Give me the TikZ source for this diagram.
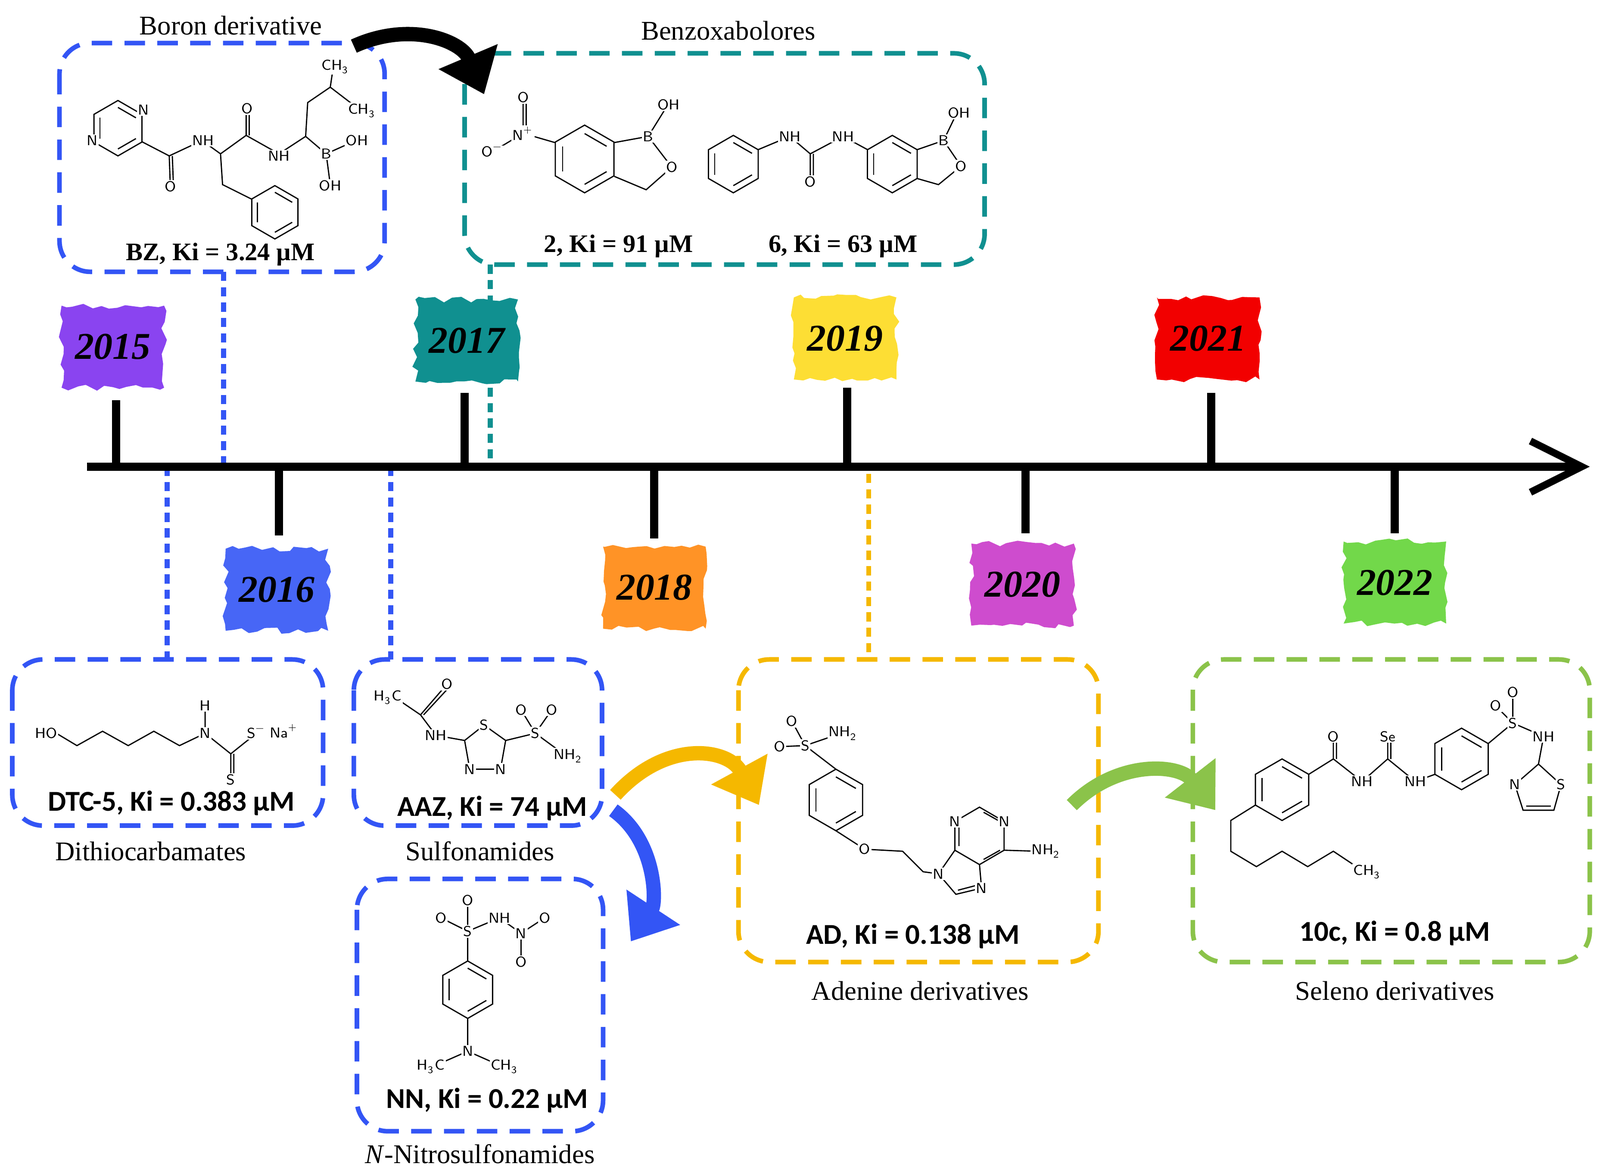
\documentclass[tikz,border=0pt]{standalone}
\usepackage{fontspec}
\setmainfont{Liberation Serif}
\newfontfamily\mysansfam{Carlito}
\usetikzlibrary{arrows.meta,decorations.pathmorphing,shapes.geometric,calc}
\definecolor{cblue}{HTML}{3355F5}
\definecolor{cteal}{HTML}{109090}
\definecolor{cyel}{HTML}{F5B800}
\definecolor{cgreen}{HTML}{8BC34A}
\definecolor{cpurp}{HTML}{8A44F0}
\definecolor{cgr22}{HTML}{72D84A}
\newcommand\hexa[3]{% cx cy r
  \draw[chem] (#1,#2) ++(90:#3) -- ++(-30:#3) -- ++(-90:#3) -- ++(-150:#3) -- ++(150:#3) -- ++(90:#3) -- cycle;
  \draw[chem] ($(#1,#2)+(90:0.75*#3)$) -- ($(#1,#2)+(30:0.75*#3)$);
  \draw[chem] ($(#1,#2)+(-30:0.75*#3)$) -- ($(#1,#2)+(-90:0.75*#3)$);
  \draw[chem] ($(#1,#2)+(-150:0.75*#3)$) -- ($(#1,#2)+(150:0.75*#3)$);}
\newcommand\sub[1]{\textsubscript{#1}}
\newcommand\sups[1]{\textsuperscript{#1}}
\begin{document}
\begin{tikzpicture}[x=0.1mm,y=-0.1mm,
  chem/.style={line width=0.12mm},
  atm/.style={font=\sffamily\fontsize{4}{4}\selectfont,inner sep=0.3pt,fill=white},
  box/.style={draw,line width=0.45mm,rounded corners=3mm,dash pattern=on 2mm off 1.2mm},
  dots/.style={line width=0.5mm,dash pattern=on 0.9mm off 0.6mm},
  year/.style={minimum width=10mm,minimum height=8mm,inner sep=0pt,font=\bfseries\itshape\fontsize{10.5}{11}\selectfont},
  tick/.style={line width=0.8mm},
  capt/.style={font=\fontsize{7.5}{8}\selectfont},
  bl/.style={font=\bfseries\fontsize{7}{8}\selectfont},
  sl/.style={font=\mysansfam\bfseries\fontsize{8}{8}\selectfont},
  big/.style={line width=1.4mm,-{Triangle[length=4mm,width=6mm]}}]
\useasboundingbox (0,0) rectangle (1560,1140.8);

% dotted links (behind)
\draw[dots,cblue] (218,265) -- (218,455);
\draw[dots,cteal] (478,258) -- (478,455);
\draw[dots,cblue] (163,455) -- (163,643);
\draw[dots,cblue] (381,455) -- (381,643);
\draw[dots,cyel] (847,462) -- (847,643);

% timeline
\coordinate (t0) at (85,455); \coordinate (t1) at (1550,455);
\draw[line width=0.8mm,-{Straight Barb[length=5mm,width=5mm,line width=0.7mm]}] (t0) -- (t1);

% year badges
\newcommand\badge[4]{%
 \fill[#3,decorate,decoration={random steps,segment length=0.8mm,amplitude=0.3mm}] (#1-50,#2-40) rectangle (#1+50,#2+40);
 \node[year] (y#4) at (#1,#2) {#4};}
\badge{110}{338}{cpurp}{2015}
\badge{270}{575}{cblue!90!white}{2016}
\badge{455}{332}{cteal}{2017}
\badge{638}{573}{orange!85!white}{2018}
\badge{824}{330}{yellow!75!orange!80!white}{2019}
\badge{997}{570}{violet!55!magenta!70!white}{2020}
\badge{1178}{330}{red!95!black}{2021}
\badge{1360}{568}{cgr22}{2022}

% ticks
\foreach \x/\a in {113/390,453/383,826/378,1181/383}{\draw[tick] (\x,455) -- (\x,\a);}
\foreach \x/\a in {272/522,638/525,1000/520,1360/520}{\draw[tick] (\x,455) -- (\x,\a);}

% boxes
\draw[box,cblue] (58,42) rectangle (375,265); \node[capt] (tb) at (225,25) {Boron derivative};
\draw[box,cteal] (453,52) rectangle (960,258); \node[capt] (tx) at (710,30) {Benzoxabolores};
\draw[box,cblue] (12,643) rectangle (315,805); \node[capt] at (147,830) {Dithiocarbamates};
\draw[box,cblue] (345,643) rectangle (587,805); \node[capt] at (468,830) {Sulfonamides};
\draw[box,cblue] (348,857) rectangle (588,1103); \node[capt] at (468,1125) {\textit{N}-Nitrosulfonamides};
\draw[box,cyel] (720,643) rectangle (1071,938); \node[capt] at (897,966) {Adenine derivatives};
\draw[box,cgreen] (1163,643) rectangle (1550,938); \node[capt] at (1360,966) {Seleno derivatives};

% big arrows
\draw[big,black] (345,45) .. controls (400,20) and (450,40) .. (472,92);
\draw[big,cyel] (600,775) .. controls (650,720) and (710,730) .. (740,785);
\draw[big,cgreen] (1045,785) .. controls (1090,740) and (1150,745) .. (1185,790);
\draw[big,cblue] (598,790) .. controls (640,820) and (640,880) .. (615,918);

% labels
\node[bl] at (215,248) {BZ, Ki = 3.24 µM};
\node[bl] at (603,240) {2, Ki = 91 µM};
\node[bl] at (822,240) {6, Ki = 63 µM};
\node[sl] at (167,783) {DTC-5, Ki = 0.383 µM};
\node[sl] at (480,788) {AAZ, Ki = 74 µM};
\node[sl] at (475,1073) {NN, Ki = 0.22 µM};
\node[sl] at (890,913) {AD, Ki = 0.138 µM};
\node[sl] at (1360,910) {10c, Ki = 0.8 µM};

% ---- BZ
\hexa{115}{125}{27}
\hexa{268}{207}{26}
\draw[chem] (138,138) -- (165,152) -- (197,137) (165,152) -- (166,180) (168,152) -- (169,178)
 (197,137) -- (215,150) -- (240,132) -- (272,150) (240,132) -- (240,107) (243,132) -- (243,107)
 (215,150) -- (217,180) -- (245,194) (272,150) -- (298,133) -- (318,150) -- (347,137) (318,150) -- (322,180)
 (298,133) -- (300,100) -- (322,85) -- (325,65) (322,85) -- (352,108);
\node[atm] at (140,107) {N}; \node[atm] at (90,137) {N};
\node[atm] at (166,182) {O}; \node[atm] at (198,137) {NH}; \node[atm] at (241,106) {O};
\node[atm] at (272,152) {NH}; \node[atm] at (318,150) {B}; \node[atm] at (348,137) {OH}; \node[atm] at (322,181) {OH};
\node[atm] at (327,65) {CH\sub{3}}; \node[atm] at (353,108) {CH\sub{3}};

% ---- 2
\hexa{570}{155}{33}
\draw[chem] (599,139) -- (632,133) -- (650,104) (632,133) -- (655,163) -- (630,185) -- (599,172)
 (541,139) -- (510,130) -- (510,95) (513,130) -- (513,95) (510,130) -- (480,148);
\node[atm] at (632,133) {B}; \node[atm] at (652,102) {OH}; \node[atm] at (655,163) {O};
\node[atm] at (510,130) {N\sups{+}}; \node[atm] at (510,95) {O}; \node[atm] at (480,148) {O\sups{−}};

% ---- 6
\hexa{715}{160}{28}
\hexa{870}{160}{28}
\draw[chem] (739,146) -- (770,133) -- (790,150) -- (822,133) -- (846,146) (790,150) -- (790,177) (793,150) -- (793,177)
 (894,146) -- (920,137) -- (933,110) (920,137) -- (937,162) -- (915,180) -- (894,174);
\node[atm] at (770,133) {NH}; \node[atm] at (822,133) {NH}; \node[atm] at (790,177) {O};
\node[atm] at (920,137) {B}; \node[atm] at (935,110) {OH}; \node[atm] at (937,162) {O};

% ---- DTC-5
\draw[chem] (55,715) -- (75,727) -- (100,713) -- (125,727) -- (150,713) -- (175,727) -- (200,715) -- (225,735) -- (250,715)
 (225,735) -- (225,760) (228,735) -- (228,760) (200,715) -- (200,690);
\node[atm] at (45,715) {HO}; \node[atm] at (200,715) {N}; \node[atm] at (200,688) {H};
\node[atm] at (250,715) {S\sups{−}}; \node[atm] at (277,713) {Na\sups{+}}; \node[atm] at (225,760) {S};

% ---- AAZ
\draw[chem] (385,680) -- (410,697) -- (435,668) (413,697) -- (438,670) (410,697) -- (425,717) -- (453,722)
 (472,707) -- (453,722) -- (458,750) -- (488,750) -- (493,722) -- cycle (493,722) -- (522,715) -- (508,692) (522,715) -- (538,692) (522,715) -- (552,737);
\node[atm] at (378,680) {H\sub{3}C}; \node[atm] at (436,667) {O}; \node[atm] at (425,717) {NH};
\node[atm] at (472,707) {S}; \node[atm] at (458,750) {N}; \node[atm] at (488,750) {N};
\node[atm] at (522,715) {S}; \node[atm] at (508,692) {O}; \node[atm] at (538,692) {O}; \node[atm] at (554,737) {NH\sub{2}};

% ---- NN
\hexa{456}{965}{28}
\draw[chem] (456,908) -- (456,937) (456,908) -- (430,895) (456,908) -- (456,878) (456,908) -- (487,895) -- (508,910) -- (531,895) (508,910) -- (508,938)
 (456,993) -- (456,1025) -- (422,1040) (456,1025) -- (490,1040);
\node[atm] at (456,908) {S}; \node[atm] at (430,895) {O}; \node[atm] at (456,878) {O}; \node[atm] at (487,895) {NH};
\node[atm] at (508,910) {N}; \node[atm] at (531,895) {O}; \node[atm] at (508,938) {O};
\node[atm] at (456,1025) {N}; \node[atm] at (420,1040) {H\sub{3}C}; \node[atm] at (492,1040) {CH\sub{3}};

% ---- AD
\hexa{815}{780}{30}
\draw[chem] (815,750) -- (785,727) -- (772,703) (785,727) -- (760,728) (785,727) -- (820,715)
 (815,810) -- (843,828) -- (880,830) -- (900,850) -- (915,852);
\draw[chem] (955,787) -- (979,801) -- (979,829) -- (955,843) -- (931,829) -- (931,801) -- cycle
 (959,792) -- (975,801) (975,829) -- (959,838) (935,805) -- (935,825);
\draw[chem] (931,829) -- (915,852) -- (932,872) -- (957,866) -- (955,843) (934,868) -- (953,863) (979,829) -- (1012,830);
\node[atm] at (931,801) {N}; \node[atm] at (979,801) {N}; \node[atm] at (915,852) {N}; \node[atm] at (957,866) {N};
\node[atm] at (843,828) {O}; \node[atm] at (785,727) {S}; \node[atm] at (772,703) {O}; \node[atm] at (760,728) {O}; \node[atm] at (822,715) {NH\sub{2}};
\node[atm] at (1020,830) {NH\sub{2}};

% ---- 10c
\hexa{1250}{770}{30}
\hexa{1425}{740}{30}
\draw[chem] (1276,755) -- (1300,740) -- (1328,762) -- (1353,740) -- (1380,762) -- (1399,755) (1300,740) -- (1300,718) (1303,740) -- (1303,718)
 (1353,740) -- (1353,718) (1356,740) -- (1356,718) (1451,725) -- (1475,705) -- (1458,688) (1475,705) -- (1475,675) (1475,705) -- (1505,718) -- (1500,745)
 (1224,785) -- (1200,800) -- (1200,830) -- (1225,845) -- (1250,830) -- (1275,845) -- (1300,830) -- (1330,850);
\draw[chem] (1500,745) -- (1522,765) -- (1515,790) -- (1485,790) -- (1477,765) -- cycle (1488,786) -- (1512,786);
\node[atm] at (1300,718) {O}; \node[atm] at (1328,762) {NH}; \node[atm] at (1353,718) {Se}; \node[atm] at (1380,762) {NH};
\node[atm] at (1475,705) {S}; \node[atm] at (1458,688) {O}; \node[atm] at (1475,675) {O}; \node[atm] at (1505,718) {NH};
\node[atm] at (1477,765) {N}; \node[atm] at (1522,765) {S}; \node[atm] at (1333,850) {CH\sub{3}};
\end{tikzpicture}
\end{document}
